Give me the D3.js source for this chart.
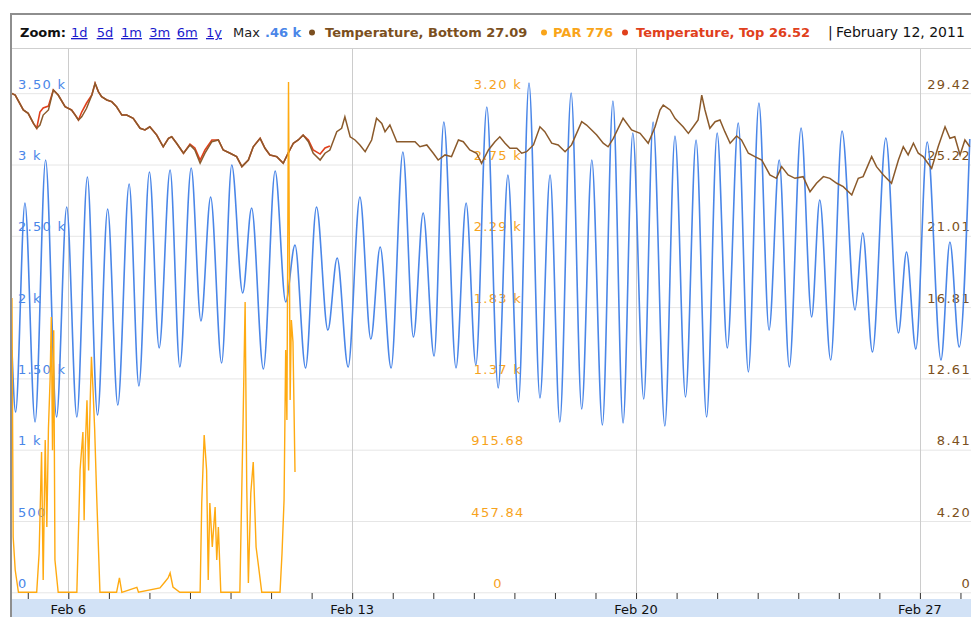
<!DOCTYPE html>
<html>
<head>
<meta charset="utf-8">
<script src="https://cdn.jsdelivr.net/npm/d3@7"></script>
<style>
  html, body { margin: 0; padding: 0; background: #fff; overflow: hidden; }
  svg { display: block; font-family: "DejaVu Sans", Verdana, sans-serif; }
</style>
</head>
<body>
<svg id="chart" width="971" height="617"></svg>
<script>
// [day of Feb 2011, value]
const depth = [
  [4.61,1699],[4.70,1264],[4.93,2730],[5.18,1194],[5.44,3032],[5.71,1229],[5.96,2702],[6.21,1229],
  [6.47,2912],[6.72,1243],[6.97,2688],[7.22,1313],[7.50,2863],[7.74,1447],[8.00,2947],[8.24,1713],
  [8.51,2961],[8.75,1580],[9.03,2975],[9.27,1903],[9.51,2772],[9.78,1608],[10.03,2997],[10.30,2099],
  [10.52,2695],[10.81,1566],[11.10,2954],[11.36,2036],[11.59,2436],[11.85,1573],[12.12,2702],[12.40,1839],
  [12.63,2344],[12.90,1580],[13.19,2772],[13.46,1776],[13.69,2421],[13.96,1573],[14.25,3088],[14.51,1790],
  [14.75,2660],[15.02,1657],[15.26,3298],[15.56,1573],[15.81,2730],[16.05,1594],[16.32,3403],[16.60,1433],
  [16.84,2926],[17.10,1335],[17.36,3572],[17.63,1363],[17.88,2926],[18.12,1194],[18.40,3501],[18.66,1285],
  [18.91,3032],[19.17,1173],[19.43,3445],[19.68,1187],[19.92,3221],[20.19,1356],[20.42,3298],[20.71,1166],
  [20.96,3200],[21.22,1370],[21.48,3172],[21.74,1229],[22.00,3221],[22.25,1713],[22.52,3291],[22.77,1545],
  [23.03,3431],[23.28,1839],[23.53,3032],[23.78,1580],[24.07,3256],[24.33,1931],[24.53,2751],[24.80,1629],
  [25.08,3235],[25.40,1980],[25.59,2520],[25.83,1685],[26.16,3186],[26.47,1818],[26.67,2386],[26.90,1706],
  [27.18,3158],[27.52,1629],[27.74,2457],[27.97,1720],[28.23,3179]
];

const tempBottom = [
  [4.60,29.41],[4.69,29.31],[4.89,28.43],[5.01,28.23],[5.14,27.64],[5.22,27.35],[5.30,27.54],[5.38,28.13],
  [5.51,28.43],[5.63,29.61],[5.75,29.31],[5.92,28.62],[6.08,28.43],[6.17,28.13],[6.25,27.84],[6.33,28.03],
  [6.45,28.53],[6.58,29.31],[6.66,30.00],[6.74,29.51],[6.82,29.21],[6.95,29.02],[7.07,28.92],[7.19,28.62],
  [7.32,28.13],[7.44,28.13],[7.60,27.94],[7.77,27.35],[7.89,27.25],[8.01,27.44],[8.18,26.95],[8.34,26.26],
  [8.47,26.76],[8.55,26.85],[8.67,26.47],[8.84,25.88],[9.00,26.37],[9.12,26.07],[9.25,25.29],[9.37,25.88],
  [9.54,26.56],[9.70,26.66],[9.82,26.07],[9.99,25.88],[10.15,25.68],[10.28,25.09],[10.44,25.48],[10.56,26.26],
  [10.73,26.76],[10.85,26.17],[10.97,25.78],[11.14,25.68],[11.30,25.29],[11.42,25.88],[11.55,26.47],[11.67,26.66],
  [11.79,26.95],[11.92,26.56],[12.04,25.88],[12.21,25.48],[12.33,25.88],[12.45,26.07],[12.62,27.15],[12.74,27.35],
  [12.82,28.03],[12.95,26.85],[13.07,26.66],[13.19,26.37],[13.32,25.97],[13.48,26.66],[13.60,27.94],[13.73,27.64],
  [13.81,27.15],[13.93,27.54],[14.10,26.56],[14.34,26.56],[14.55,26.56],[14.67,26.26],[14.84,26.37],[15.00,25.88],
  [15.12,25.48],[15.29,25.78],[15.45,25.68],[15.62,26.66],[15.74,26.56],[15.90,26.07],[16.07,25.88],[16.19,25.29],
  [16.36,26.07],[16.52,26.56],[16.64,26.85],[16.77,26.47],[16.89,26.17],[17.06,26.17],[17.18,25.88],[17.30,25.97],
  [17.47,26.37],[17.63,27.44],[17.75,27.15],[17.92,26.47],[18.08,26.37],[18.25,25.97],[18.41,26.37],[18.66,27.74],
  [18.78,27.54],[19.03,26.95],[19.19,26.47],[19.31,26.26],[19.44,26.76],[19.68,27.94],[19.89,27.25],[20.10,27.05],
  [20.30,26.47],[20.47,27.44],[20.59,28.43],[20.67,28.72],[20.84,28.43],[20.96,27.94],[21.04,27.74],[21.16,27.44],
  [21.29,27.05],[21.41,27.44],[21.53,27.84],[21.62,29.31],[21.70,28.43],[21.82,27.35],[21.95,27.74],[22.07,27.84],
  [22.19,27.15],[22.32,26.47],[22.48,26.90],[22.60,26.66],[22.77,25.88],[22.93,25.68],[23.10,25.48],[23.30,24.60],
  [23.46,24.40],[23.59,25.09],[23.75,24.60],[23.92,24.40],[24.12,24.50],[24.29,23.61],[24.45,24.11],[24.62,24.50],
  [24.78,24.40],[24.95,24.11],[25.11,23.91],[25.32,23.42],[25.48,24.40],[25.60,24.50],[25.81,25.68],[25.93,25.09],
  [26.10,24.60],[26.30,24.11],[26.47,25.48],[26.59,26.26],[26.71,25.78],[26.84,26.47],[26.96,25.88],[27.08,25.68],
  [27.17,25.38],[27.29,24.99],[27.45,26.26],[27.62,27.44],[27.74,26.76],[27.86,26.85],[27.99,25.78],[28.11,26.66],
  [28.23,26.26]
];

const tempTop = [
  [4.60,29.41],[4.69,29.31],[4.89,28.43],[5.01,28.23],[5.14,27.64],[5.22,27.35],[5.30,28.31],[5.38,28.55],
  [5.51,28.66],[5.63,29.61],[5.75,29.31],[5.92,28.62],[6.08,28.43],[6.17,28.13],[6.25,27.84],[6.33,28.31],
  [6.45,28.84],[6.58,29.31],[6.66,30.00],[6.74,29.51],[6.82,29.21],[6.95,29.02],[7.07,28.92],[7.19,28.62],
  [7.32,28.13],[7.44,28.13],[7.60,27.94],[7.77,27.35],[7.89,27.25],[8.01,27.44],[8.18,26.95],[8.34,26.26],
  [8.47,26.76],[8.55,26.85],[8.67,26.47],[8.84,25.88],[9.00,26.42],[9.12,26.19],[9.25,25.48],[9.37,26.07],
  [9.54,26.66],[9.70,26.66],[9.82,26.07],[9.99,25.88],[10.15,25.68],[10.28,25.09],[10.44,25.48],[10.56,26.26],
  [10.73,26.76],[10.85,26.17],[10.97,25.78],[11.14,25.68],[11.30,25.29],[11.42,25.88],[11.55,26.47],[11.67,26.66],
  [11.79,26.95],[11.92,26.66],[12.04,26.07],[12.21,25.83],[12.33,26.19],[12.45,26.31]
];

const par = [
  [4.61,1890],[4.64,355],[4.69,143],[4.77,0],[5.22,0],[5.28,252],[5.34,901],[5.38,79],[5.43,978],
  [5.47,419],[5.51,1055],[5.55,1363],[5.58,1768],[5.61,912],[5.64,1683],[5.67,207],[5.75,0],
  [6.21,0],[6.29,785],[6.36,1029],[6.39,462],[6.42,944],[6.46,1233],[6.50,783],[6.54,1233],
  [6.57,1512],[6.61,1298],[6.65,1042],[6.70,612],[6.78,0],[7.19,0],[7.26,92],[7.32,0],[7.69,32],
  [7.73,0],[8.26,28],[8.38,66],[8.46,92],[8.51,124],[8.58,34],[8.75,0],[9.25,0],[9.29,573],
  [9.35,1010],[9.41,785],[9.45,79],[9.49,573],[9.55,291],[9.62,547],[9.66,207],[9.70,419],[9.76,0],
  [10.23,0],[10.31,1106],[10.36,1864],[10.40,676],[10.44,60],[10.50,638],[10.56,837],[10.63,291],
  [10.68,189],[10.77,0],[11.22,0],[11.27,252],[11.32,592],[11.36,1556],[11.39,1106],[11.43,3277],
  [11.47,1235],[11.50,1748],[11.54,1607],[11.59,773]
];

const leftTicks = [0, 500, 1000, 1500, 2000, 2500, 3000, 3500];
const leftLabels = ['0', '500', '1 k', '1.50 k', '2 k', '2.50 k', '3 k', '3.50 k'];
const parTicks = [0, 457.84, 915.68, 1373.52, 1831.36, 2289.2, 2747.04, 3204.88];
const parLabels = ['0', '457.84', '915.68', '1.37 k', '1.83 k', '2.29 k', '2.75 k', '3.20 k'];
const tempTicks = [0, 4.2026, 8.4052, 12.6078, 16.8104, 21.013, 25.2156, 29.4182];
const tempLabels = ['0', '4.20', '8.41', '12.61', '16.81', '21.01', '25.22', '29.42'];
const weekDays = [6, 13, 20, 27];
const weekLabels = ['Feb 6', 'Feb 13', 'Feb 20', 'Feb 27'];
const zoomLinks = ['1d', '5d', '1m', '3m', '6m', '1y'];

const day = d => new Date(Date.UTC(2011, 1, 1) + (d - 1) * 864e5);

const svg = d3.select('#chart');
const plotL = 12, plotR = 971, plotT = 49, plotB = 599;

const x = d3.scaleUtc().domain([day(4.611), day(28.26)]).range([plotL, plotR]);
const yDepth = d3.scaleLinear().domain([0, 3500]).range([592.3, 93.2]);
const yPar = d3.scaleLinear().domain([0, parTicks[7]]).range([592.3, 93.2]);
const yTemp = d3.scaleLinear().domain([0, tempTicks[7]]).range([592.3, 93.2]);

svg.append('rect').attr('width', 971).attr('height', 617).attr('fill', '#fff');

// frame
svg.append('line').attr('x1', 10).attr('x2', 971).attr('y1', 14).attr('y2', 14)
  .attr('stroke', '#8e8e8e').attr('stroke-width', 2);
svg.append('line').attr('x1', 11).attr('x2', 11).attr('y1', 13).attr('y2', 617)
  .attr('stroke', '#8e8e8e').attr('stroke-width', 2);
svg.append('line').attr('x1', plotL).attr('x2', plotR).attr('y1', 48.5).attr('y2', 48.5)
  .attr('stroke', '#cfcfcf');

// horizontal gridlines
const grid = svg.append('g').attr('transform', `translate(${plotL},0)`)
  .call(d3.axisLeft(yDepth).tickValues(leftTicks).tickSize(-(plotR - plotL)).tickFormat(''));
grid.select('.domain').remove();
grid.selectAll('line').attr('stroke', '#e6e6e6');

// week gridlines
svg.append('g').selectAll('line').data(weekDays).join('line')
  .attr('x1', d => Math.round(x(day(d))) + 0.5).attr('x2', d => Math.round(x(day(d))) + 0.5)
  .attr('y1', plotT).attr('y2', plotB)
  .attr('stroke', '#cccccc');

// axis labels inside the plot
function styleLabels(g, color, anchor) {
  g.select('.domain').remove();
  g.attr('font-family', '"DejaVu Sans", Verdana, sans-serif').attr('font-size', 13);
  g.selectAll('text')
    .attr('x', 0).attr('y', -5).attr('dy', null)
    .attr('fill', color)
    .attr('text-anchor', anchor)
    .style('letter-spacing', '1.3px');
}
svg.append('g').attr('transform', 'translate(18,0)')
  .call(d3.axisRight(yDepth).tickValues(leftTicks).tickSize(0).tickFormat((d, i) => leftLabels[i]))
  .call(g => styleLabels(g, '#4a86e8', 'start'));
svg.append('g').attr('transform', 'translate(498,0)')
  .call(d3.axisRight(yPar).tickValues(parTicks).tickSize(0).tickFormat((d, i) => parLabels[i]))
  .call(g => styleLabels(g, '#f7a31c', 'middle'));
svg.append('g').attr('transform', 'translate(971,0)')
  .call(d3.axisLeft(yTemp).tickValues(tempTicks).tickSize(0).tickFormat((d, i) => tempLabels[i]))
  .call(g => styleLabels(g, '#7b4f20', 'end'));

// series
svg.append('clipPath').attr('id', 'plot')
  .append('rect').attr('x', plotL).attr('y', plotT).attr('width', plotR - plotL).attr('height', plotB - plotT);
const plot = svg.append('g').attr('clip-path', 'url(#plot)');

const lineFor = (y, curve) => d3.line()
  .x(d => x(day(d[0])))
  .y(d => y(d[1]))
  .curve(curve);

plot.append('path').datum(depth)
  .attr('d', lineFor(yDepth, d3.curveMonotoneX))
  .attr('fill', 'none').attr('stroke', '#4a86e8').attr('stroke-width', 1.6);
plot.append('path').datum(tempTop)
  .attr('d', lineFor(yTemp, d3.curveLinear))
  .attr('fill', 'none').attr('stroke', '#e0401c').attr('stroke-width', 1.6);
plot.append('path').datum(tempBottom)
  .attr('d', lineFor(yTemp, d3.curveLinear))
  .attr('fill', 'none').attr('stroke', '#8b5a2b').attr('stroke-width', 1.5);
plot.append('path').datum(par)
  .attr('d', lineFor(yPar, d3.curveLinear))
  .attr('fill', 'none').attr('stroke', '#ffaa11').attr('stroke-width', 1.4);

// x axis band
svg.append('rect').attr('x', plotL).attr('y', plotB).attr('width', plotR - plotL).attr('height', 617 - plotB)
  .attr('fill', '#d2e2f6');
const xAxis = svg.append('g').attr('transform', `translate(0,${plotB - 6})`)
  .call(d3.axisBottom(x).ticks(d3.utcDay.every(1)).tickSize(6).tickFormat(''));
xAxis.select('.domain').remove();
xAxis.selectAll('line').attr('stroke', '#333');
svg.append('g').selectAll('text').data(weekDays).join('text')
  .attr('x', d => x(day(d)))
  .attr('y', 614)
  .attr('text-anchor', 'middle')
  .attr('font-size', 13)
  .attr('fill', '#111')
  .text((d, i) => weekLabels[i]);

// legend / header
const head = svg.append('g').attr('font-size', 13);
head.append('text').attr('x', 20).attr('y', 37).attr('font-weight', 'bold').attr('fill', '#111').text('Zoom:');
const linkX = [71, 96.7, 121, 149.3, 176.7, 206];
head.selectAll('text.zl').data(zoomLinks).join('text')
  .attr('class', 'zl')
  .attr('x', (d, i) => linkX[i]).attr('y', 37)
  .attr('fill', '#1a1acc')
  .attr('text-decoration', 'underline')
  .text(d => d);
head.append('text').attr('x', 233).attr('y', 37).attr('fill', '#222').text('Max');
head.append('text').attr('x', 265).attr('y', 37).attr('fill', '#4a86e8').attr('font-weight', 'bold').text('.46 k');

const legend = [
  { bx: 312, tx: 325, color: '#7b4f20', label: 'Temperature, Bottom 27.09' },
  { bx: 544, tx: 553, color: '#f9a51a', label: 'PAR 776' },
  { bx: 625, tx: 636, color: '#e0401c', label: 'Temperature, Top 26.52' }
];
legend.forEach(l => {
  head.append('circle').attr('cx', l.bx).attr('cy', 32.5).attr('r', 3).attr('fill', l.color);
  head.append('text').attr('x', l.tx).attr('y', 37).attr('font-weight', 'bold').attr('fill', l.color).text(l.label);
});
head.append('text').attr('x', 828).attr('y', 37).attr('fill', '#111').attr('font-size', 14).text('|');
head.append('text').attr('x', 836).attr('y', 37).attr('fill', '#111').attr('font-size', 14).text('February 12, 2011');
</script>
</body>
</html>
